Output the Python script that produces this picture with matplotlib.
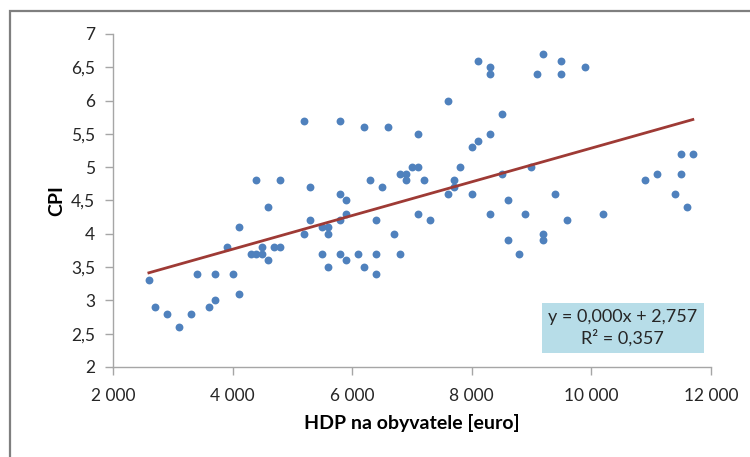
import numpy as np
import matplotlib.pyplot as plt
from matplotlib.patches import Rectangle
from matplotlib.ticker import FuncFormatter

# HDP na obyvatele [euro]
hdp = [2600, 2700, 2900, 3100, 3300, 3400, 3600, 3700, 3700, 3900,
       4000, 4100, 4100, 4300, 4400, 4400, 4500, 4500, 4600, 4600,
       4700, 4800, 4800, 5200, 5200, 5300, 5300, 5500, 5500, 5600,
       5600, 5600, 5800, 5800, 5800, 5800, 5900, 5900, 5900, 6100,
       6200, 6200, 6300, 6400, 6400, 6400, 6500, 6600, 6700, 6800,
       6800, 6900, 6900, 7000, 7100, 7100, 7100, 7200, 7300, 7600,
       7600, 7700, 7700, 7800, 8000, 8000, 8100, 8100, 8300, 8300,
       8300, 8300, 8500, 8500, 8600, 8600, 8800, 8900, 9000, 9100,
       9200, 9200, 9200, 9400, 9500, 9500, 9600, 9900, 10200, 10900,
       11100, 11400, 11500, 11500, 11600, 11700]
# CPI
cpi = [3.3, 2.9, 2.8, 2.6, 2.8, 3.4, 2.9, 3.0, 3.4, 3.8,
       3.4, 3.1, 4.1, 3.7, 3.7, 4.8, 3.8, 3.7, 3.6, 4.4,
       3.8, 3.8, 4.8, 5.7, 4.0, 4.2, 4.7, 3.7, 4.1, 4.1,
       4.0, 3.5, 5.7, 4.6, 4.2, 3.7, 4.5, 4.3, 3.6, 3.7,
       5.6, 3.5, 4.8, 4.2, 3.7, 3.4, 4.7, 5.6, 4.0, 4.9,
       3.7, 4.9, 4.8, 5.0, 5.0, 5.5, 4.3, 4.8, 4.2, 6.0,
       4.6, 4.8, 4.7, 5.0, 5.3, 4.6, 6.6, 5.4, 6.5, 6.4,
       5.5, 4.3, 5.8, 4.9, 4.5, 3.9, 3.7, 4.3, 5.0, 6.4,
       6.7, 4.0, 3.9, 4.6, 6.6, 6.4, 4.2, 6.5, 4.3, 4.8,
       4.9, 4.6, 5.2, 4.9, 4.4, 5.2]

eq_text = "y = 0,000x + 2,757\nR\u00b2 = 0,357"

plt.rcParams['font.family'] = ['Lato', 'DejaVu Sans']

fig = plt.figure(figsize=(7.5, 4.57), dpi=100)
ax = fig.add_axes([0.1507, 0.197, 0.797, 0.7287])

ax.scatter(hdp, cpi, s=32, color='#4F81BD', zorder=3, linewidths=0)

# linear trend line
slope, intercept = np.polyfit(hdp, cpi, 1)
xs = np.array([min(hdp), max(hdp)])
ax.plot(xs, slope * xs + intercept, color='#9E3A35', lw=2.0, zorder=4)

ax.set_xlim(2000, 12000)
ax.set_ylim(2, 7)
ax.set_xticks(range(2000, 12001, 2000))
ax.set_yticks(np.arange(2, 7.01, 0.5))
ax.xaxis.set_major_formatter(FuncFormatter(lambda v, p: f"{int(v):,}".replace(",", " ")))
ax.yaxis.set_major_formatter(FuncFormatter(lambda v, p: f"{v:g}".replace(".", ",")))

for s in ['top', 'right']:
    ax.spines[s].set_visible(False)
for s in ['left', 'bottom']:
    ax.spines[s].set_color('#A6A6A6')
    ax.spines[s].set_linewidth(1.0)
ax.tick_params(axis='both', colors='#A6A6A6', labelcolor='#262626',
               labelsize=12.5, length=6, width=1.0, direction='out')
ax.tick_params(axis='x', pad=9)
ax.tick_params(axis='y', pad=7)

ax.set_xlabel('HDP na obyvatele [euro]', fontsize=14, fontweight='bold', labelpad=7)
ax.set_ylabel('CPI', fontsize=14, fontweight='bold', labelpad=4)

# equation box
ax.text(0.853, 0.117, eq_text, transform=ax.transAxes, ha='center', va='center',
        fontsize=13, color='#262626', linespacing=1.3,
        bbox=dict(boxstyle='square,pad=0.35', fc='#B7DDE8', ec='none'))

# chart area border
fig.patches.append(Rectangle((10 / 750, -0.1), 1.0, 1.1 - 11 / 457,
                             transform=fig.transFigure, fill=False,
                             ec='#7F7F7F', lw=1.6))

fig.savefig('out.png', dpi=100)
